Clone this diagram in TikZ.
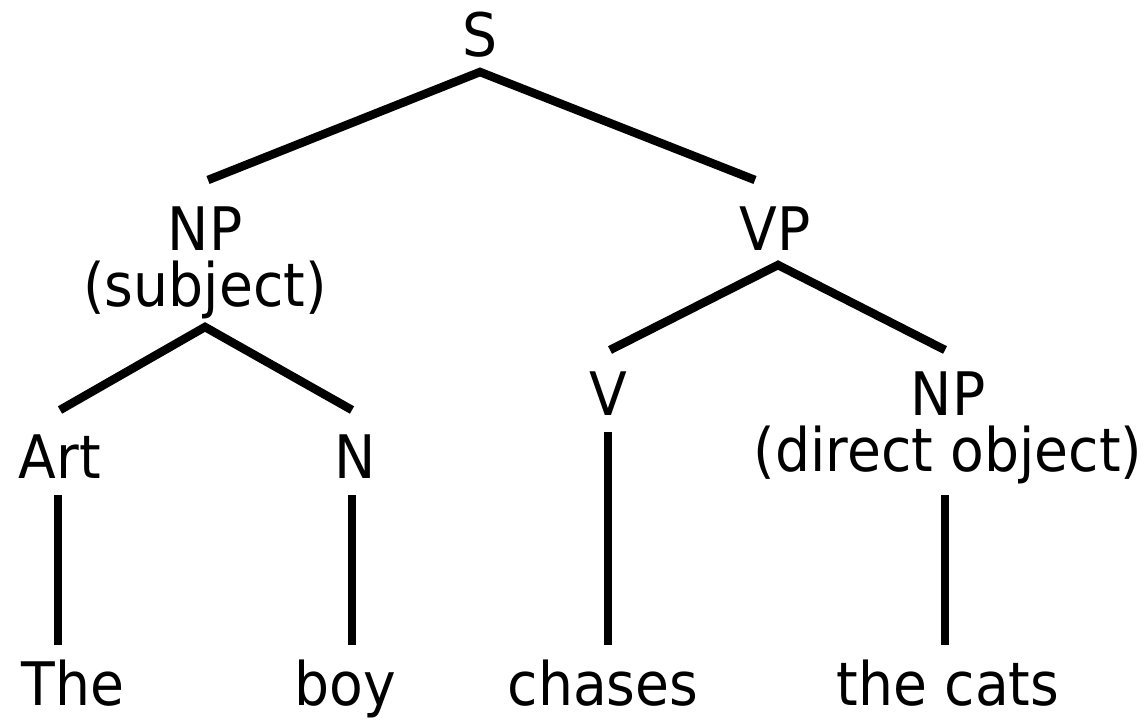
\documentclass[tikz,border=0pt]{standalone}
\usepackage{fontspec}
\newfontfamily\treefont{DejaVu Sans}[FakeStretch=0.92]
\begin{document}
\begin{tikzpicture}[x=1pt,y=-1pt,
  lbl/.style={inner sep=0pt,font=\treefont\fontsize{60}{56}\selectfont,align=center},
  edge/.style={line width=8.5pt,line cap=butt}]
\useasboundingbox (0,0) rectangle (1147,722);
% nodes
\node[lbl,anchor=base] (S) at (480,57) {S};
\node[lbl,anchor=north] (NPs) at (205,207) {NP\\(subject)};
\node[lbl,anchor=base] (VP) at (775,250) {VP};
\node[lbl,anchor=base] (Art) at (60,478) {Art};
\node[lbl,anchor=base] (N) at (355,478) {N};
\node[lbl,anchor=base] (V) at (608,415) {V};
\node[lbl,anchor=north] (NPo) at (948,372) {NP\\(direct object)};
\node[lbl,anchor=base] (The) at (73,705) {The};
\node[lbl,anchor=base] (boy) at (345,705) {boy};
\node[lbl,anchor=base] (chases) at (603,705) {chases};
\node[lbl,anchor=base] (cats) at (948,705) {the cats};
% connectors
\draw[edge] ([shift={(3,-27)}]NPs.north) -- ([shift={(0,15)}]S.base) -- ([shift={(-20,-70)}]VP.base);
\draw[edge] ([shift={(0,-68)}]Art.base) -- ([shift={(0,120)}]NPs.north) -- ([shift={(-3,-68)}]N.base);
\draw[edge] ([shift={(2,-65)}]V.base) -- ([shift={(3,15)}]VP.base) -- ([shift={(-3,-22)}]NPo.north);
\draw[edge] ([shift={(-2,17)}]Art.base) -- ([shift={(-15,-60)}]The.base);
\draw[edge] ([shift={(-3,17)}]N.base) -- ([shift={(7,-60)}]boy.base);
\draw[edge] ([shift={(0,17)}]V.base) -- ([shift={(5,-60)}]chases.base);
\draw[edge] ([shift={(-3,123)}]NPo.north) -- ([shift={(-3,-60)}]cats.base);
\end{tikzpicture}
\end{document}
